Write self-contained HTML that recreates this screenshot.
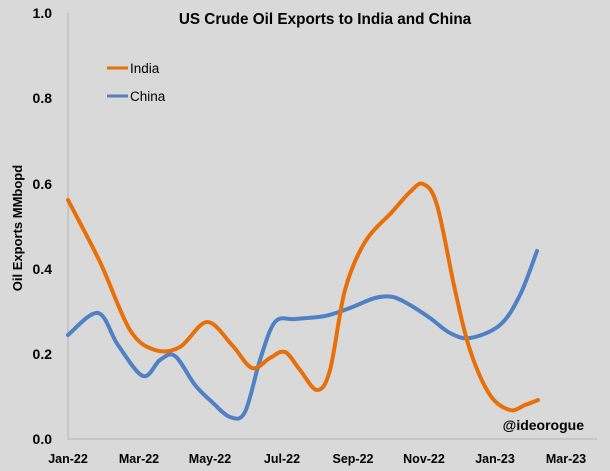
<!DOCTYPE html>
<html><head><meta charset="utf-8"><style>
body{margin:0;background:#d9d9d9}
svg{display:block}
text{font-family:"Liberation Sans",sans-serif;font-weight:bold;fill:#000}
</style></head><body>
<svg id="s" width="610" height="471" viewBox="0 0 610 471">
<rect width="610" height="471" fill="#d9d9d9"/>
<line x1="68" y1="13" x2="68" y2="440" stroke="#bfbfbf" stroke-width="1.5"/>
<line x1="68" y1="439" x2="597" y2="439" stroke="#bfbfbf" stroke-width="1.5"/>
<g font-size="14" text-anchor="end">
<text x="52" y="18">1.0</text><text x="52" y="103">0.8</text><text x="52" y="189">0.6</text>
<text x="52" y="274">0.4</text><text x="52" y="359">0.2</text><text x="52" y="444">0.0</text>
</g>
<g font-size="12.5" text-anchor="middle">
<text x="68" y="463">Jan-22</text><text x="139" y="463">Mar-22</text><text x="210" y="463">May-22</text>
<text x="282" y="463">Jul-22</text><text x="353" y="463">Sep-22</text><text x="424" y="463">Nov-22</text>
<text x="495" y="463">Jan-23</text><text x="566" y="463">Mar-23</text>
</g>
<text x="325" y="24" font-size="15.3" text-anchor="middle">US Crude Oil Exports to India and China</text>
<text transform="translate(22,228) rotate(-90)" font-size="13" text-anchor="middle">Oil Exports MMbopd</text>
<text x="584" y="430" font-size="14" text-anchor="end">@ideorogue</text>
<line x1="107" y1="68" x2="128" y2="68" stroke="#e8700a" stroke-width="3"/>
<text x="130" y="73" font-size="13.5" style="font-weight:normal">India</text>
<line x1="107" y1="96" x2="128" y2="96" stroke="#4f81c4" stroke-width="3"/>
<text x="130" y="101" font-size="13.5" style="font-weight:normal">China</text>
<path id="china" fill="none" stroke="#4f81c4" stroke-width="4" stroke-linecap="round"/>
<path id="india" fill="none" stroke="#e8700a" stroke-width="4" stroke-linecap="round"/>
</svg>
<script>
function cr(p){let d="M"+p[0][0]+","+p[0][1];for(let i=0;i<p.length-1;i++){const a=p[i-1]||p[i],b=p[i],c=p[i+1],e=p[i+2]||c;
d+=" C"+(b[0]+(c[0]-a[0])/6)+","+(b[1]+(c[1]-a[1])/6)+" "+(c[0]-(e[0]-b[0])/6)+","+(c[1]-(e[1]-b[1])/6)+" "+c[0]+","+c[1];}return d;}
const india=[[68,200],[100,262],[130,330],[155,350],[180,347],[207,322],[232,345],[252,368],[270,358],[285,352],[300,370],[317,390],[330,370],[345,290],[365,242],[392,212],[410,192],[423,184],[437,205],[455,290],[470,350],[490,395],[510,410],[525,405],[538,400]];
const china=[[68,335],[98,313],[118,345],[143,376],[160,360],[175,356],[195,385],[212,402],[230,417],[245,412],[260,360],[275,322],[295,319],[325,316],[350,308],[375,298],[393,297],[410,305],[430,318],[450,333],[470,338],[500,325],[520,295],[537,251]];
document.getElementById("india").setAttribute("d",cr(india));
document.getElementById("china").setAttribute("d",cr(china));
</script>
</body></html>
